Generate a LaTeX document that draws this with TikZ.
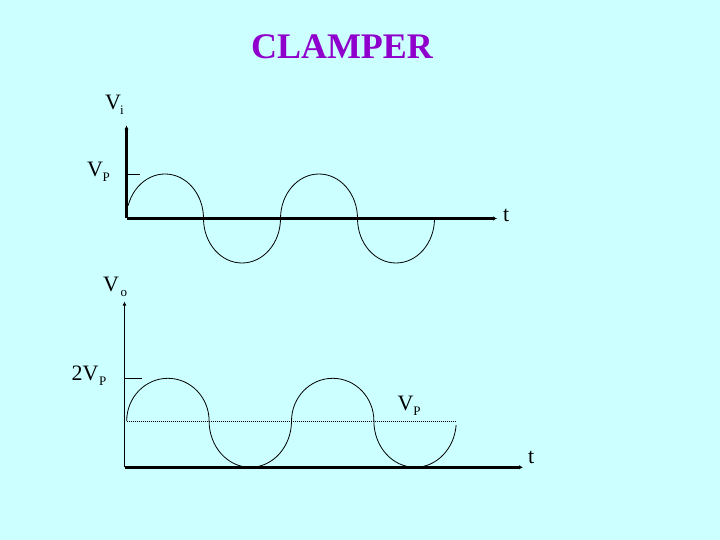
\documentclass[tikz,border=0pt]{standalone}
\usepackage{fontspec}
\setmainfont{Liberation Serif}
\usetikzlibrary{arrows.meta, calc}
\definecolor{fondo}{HTML}{CCFFFF}
\definecolor{morado}{HTML}{9000CC}
\definecolor{tinta}{HTML}{000000}
\newcommand{\subi}[1]{\raisebox{-5pt}{\fontsize{13}{13}\selectfont #1}}
\tikzset{
  eje/.style={line width=2.4pt, color=tinta, -{Latex[length=4pt,width=4.5pt]}},
  ejefino/.style={line width=1.3pt, color=tinta, -{Latex[length=4pt,width=4pt]}},
  onda/.style={line width=0.8pt, color=tinta},
  marca/.style={line width=0.8pt, color=tinta},
  nivel/.style={line width=0.7pt, color=tinta, dash pattern=on 1pt off 1pt},
  etiq/.style={font=\fontsize{22}{24}\selectfont, inner sep=0pt, anchor=base west, text=tinta},
  titulo/.style={font=\fontsize{36}{40}\selectfont\bfseries, text=morado, inner sep=0pt, anchor=base}
}
\begin{document}
\begin{tikzpicture}[x=1pt, y=-1pt]
  \fill[fondo] (0,0) rectangle (720,540);
  \useasboundingbox (0,0) rectangle (720,540);
  \node (tit) [titulo] at (342,59) {CLAMPER};

  % entrada
  \coordinate (o1) at (126.5,218.5);
  \coordinate (y1) at (126.5,125.5);
  \coordinate (x1) at (497,218.5);
  \draw [eje] (o1) -- (y1);
  \draw [eje] (o1) -- (x1);
  \draw [marca] (126.5,174) -- (140,174);
  \node (vi) [etiq] at (105,110) {V\kern-1pt\subi{i}};
  \node (vp1) [etiq] at (87,176.5) {V\kern-0.5pt\subi{P}};
  \node (t1) [etiq] at (503,222) {t};
  \draw [onda] ($(165,218.5)+(197:38.5 and 44.5)$)
    arc[start angle=197, end angle=360, x radius=38.5, y radius=44.5]
    arc[start angle=180, end angle=0, x radius=38.5, y radius=44.5]
    arc[start angle=180, end angle=360, x radius=38.5, y radius=44.5]
    arc[start angle=180, end angle=0, x radius=38.5, y radius=44.5];

  % salida
  \coordinate (o2) at (124.5,467.3);
  \coordinate (y2) at (124.5,301.5);
  \coordinate (x2) at (523,467.3);
  \draw [ejefino] (o2) -- (y2);
  \draw [eje] (o2) -- (x2);
  \draw [marca] (124.5,378.3) -- (141.7,378.3);
  \draw [nivel] (126.7,421) -- (456,421);
  \node (vo) [etiq] at (103,291.5) {V\kern1.5pt\subi{o}};
  \node (vp2) [etiq] at (71.5,380) {2V\kern0.5pt\subi{P}};
  \node (vp3) [etiq] at (397.3,410) {V\subi{P}};
  \node (t2) [etiq] at (528,463) {t};
  \draw [onda] (126.7,421)
    arc[start angle=180, end angle=360, x radius=41.2, y radius=42.7]
    arc[start angle=180, end angle=0, x radius=41.2, y radius=46.3]
    arc[start angle=180, end angle=360, x radius=41.2, y radius=42.7]
    arc[start angle=180, end angle=5, x radius=41.2, y radius=46.3];
\end{tikzpicture}
\end{document}
